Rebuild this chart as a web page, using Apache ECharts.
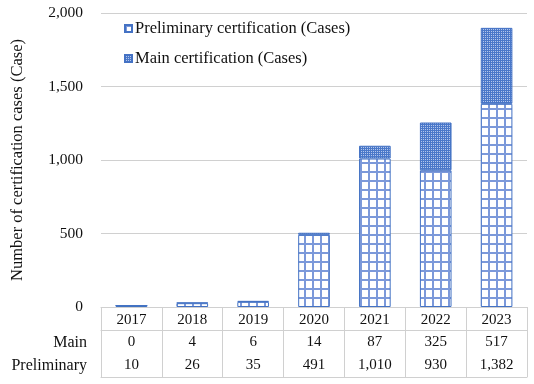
<!DOCTYPE html>
<html>
<head>
<meta charset="utf-8">
<script src="https://cdn.jsdelivr.net/npm/echarts@6/dist/echarts.min.js"></script>
<style>
html,body{margin:0;padding:0;background:#fff;}
#chart{width:534px;height:384px;}
</style>
</head>
<body>
<div id="chart"></div>
<script>
const years = ['2017', '2018', '2019', '2020', '2021', '2022', '2023'];
const mainCases = [0, 4, 6, 14, 87, 325, 517];
const preliminaryCases = [10, 26, 35, 491, 1010, 930, 1382];
const seriesNames = ['Preliminary certification (Cases)', 'Main certification (Cases)'];
const rowNames = ['Main', 'Preliminary'];
const yAxisTitle = 'Number of certification cases (Case)';

const FONT = 'Liberation Serif';
const TXT = '#111';
const LINE = '#d0d0d0';
const BLUE = '#4472C4';
const fmt = v => Number(v).toLocaleString('en-US');

function gridPattern() {
  const c = document.createElement('canvas');
  c.width = 8; c.height = 9;
  const g = c.getContext('2d');
  g.fillStyle = '#ffffff'; g.fillRect(0, 0, 8, 9);
  g.fillStyle = '#7c99da';
  g.fillRect(0, 0, 2, 9);
  g.fillRect(0, 0, 8, 2);
  return { image: c, repeat: 'repeat' };
}
function dotPattern() {
  const c = document.createElement('canvas');
  c.width = 2; c.height = 2;
  const g = c.getContext('2d');
  g.fillStyle = '#4a78c9'; g.fillRect(0, 0, 2, 2);
  g.fillStyle = '#b3c6ec'; g.fillRect(1, 1, 1, 1);
  return { image: c, repeat: 'repeat' };
}

const chart = echarts.init(document.getElementById('chart'), null, { renderer: 'canvas' });

const tableAxis = (data, offset, name, showLine) => ({
  type: 'category',
  data: data,
  position: 'bottom',
  offset: offset,
  axisLine: { show: showLine, lineStyle: { color: LINE, width: 1 } },
  axisTick: { show: false },
  axisLabel: { show: true, interval: 0, margin: 5, fontFamily: FONT, fontSize: 15, color: TXT },
  splitLine: { show: false },
  name: name,
  nameLocation: 'start',
  nameGap: 14,
  nameTextStyle: { fontFamily: FONT, fontSize: 16, color: TXT, align: 'right', verticalAlign: 'top', padding: [5, 0, 0, 0] }
});

chart.setOption({
  animation: false,
  backgroundColor: '#fff',
  textStyle: { fontFamily: FONT },
  grid: { left: 101, right: 7, top: 13, bottom: 77, containLabel: false },
  legend: {
    orient: 'vertical',
    left: 119,
    top: 15,
    itemWidth: 7,
    itemHeight: 7,
    itemGap: 13,
    icon: 'rect',
    textStyle: { fontFamily: FONT, fontSize: 16.5, color: TXT, padding: [0, 0, 0, -2] },
    data: seriesNames
  },
  xAxis: [
    {
      type: 'category',
      data: years,
      position: 'bottom',
      axisLine: { show: true, lineStyle: { color: LINE, width: 1 } },
      axisTick: { show: true, length: 70, interval: 0, lineStyle: { color: LINE, width: 1 } },
      axisLabel: { interval: 0, margin: 6, fontFamily: FONT, fontSize: 15, color: TXT },
      splitLine: { show: false }
    },
    tableAxis(mainCases.map(fmt), 23, rowNames[0], true),
    tableAxis(preliminaryCases.map(fmt), 46, rowNames[1], false),
    Object.assign(tableAxis(years, 70, '', true), { axisLabel: { show: false } })
  ],
  yAxis: {
    type: 'value',
    min: 0,
    max: 2000,
    interval: 500,
    axisLine: { show: false },
    axisTick: { show: false },
    axisLabel: { margin: 18, fontFamily: FONT, fontSize: 15.5, color: TXT, formatter: v => fmt(v) },
    splitLine: { show: true, lineStyle: { color: LINE, width: 1 } },
    name: yAxisTitle,
    nameLocation: 'middle',
    nameGap: 75,
    nameRotate: 90,
    nameTextStyle: { fontFamily: FONT, fontSize: 16.5, color: TXT }
  },
  series: [
    {
      name: seriesNames[0],
      type: 'bar',
      stack: 'total',
      xAxisIndex: 0,
      barWidth: '52%',
      data: preliminaryCases,
      itemStyle: { color: gridPattern(), borderColor: BLUE, borderWidth: 1 }
    },
    {
      name: seriesNames[1],
      type: 'bar',
      stack: 'total',
      xAxisIndex: 0,
      barWidth: '52%',
      data: mainCases,
      itemStyle: { color: dotPattern(), borderColor: BLUE, borderWidth: 1 }
    }
  ]
});
</script>
</body>
</html>
